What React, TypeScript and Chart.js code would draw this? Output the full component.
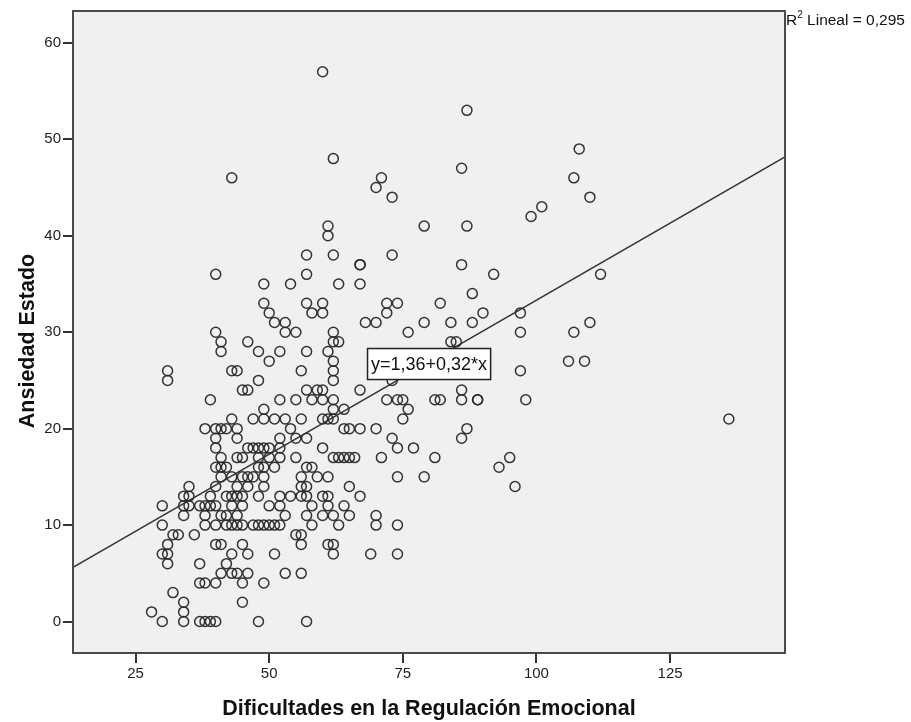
import React, { useEffect, useRef } from 'react';
import { Chart, registerables } from 'chart.js';

Chart.register(...registerables);

// Dificultades en la Regulación Emocional (x) / Ansiedad Estado (y)
const xValues: number[] = [
  60, 87, 62, 86, 71, 70, 73, 61, 79, 87, 99,
  108, 107, 110, 101, 112, 97, 97, 107, 110, 106, 109, 97, 98, 136, 95, 93, 96,
  61, 57, 62, 73, 67, 67, 86, 57, 92, 63, 67, 88,
  57, 60, 72, 74, 82, 58, 60, 72, 90,
  68, 70, 79, 84, 88, 55, 62, 76,
  62, 63, 84, 85, 57, 61, 62, 56, 62, 62, 73,
  57, 59, 60, 67, 86,
  58, 60, 62, 72, 74, 75, 81, 82, 86, 89, 89,
  62, 64, 76, 56, 60, 61, 62, 75,
  64, 65, 67, 70, 87, 57, 73, 86, 60, 77,
  39, 52, 55, 49,
  43, 47, 49, 51, 53,
  38, 40, 41, 42, 44, 54,
  40, 44, 52, 55,
  40, 46, 47, 48, 49, 50, 52,
  41, 44, 45, 48, 50, 52, 55,
  40, 41, 42, 48, 49, 51, 57,
  41, 43, 45, 46, 47, 49, 56,
  35, 40, 44, 46, 49, 56,
  34, 35, 39, 42, 43, 44, 45, 48, 52, 54, 56,
  30, 34, 35, 37, 38, 39, 40, 43, 45, 50, 52,
  34, 38, 41, 42, 44, 53, 57,
  30, 38, 40, 42, 43, 44, 45, 47, 48, 49, 50, 51, 52,
  32, 33, 36, 55, 56,
  31, 40, 41, 45, 56,
  30, 31, 43, 46, 51,
  31, 37, 42,
  41, 43, 44, 46, 53,
  37, 38, 40, 45, 49,
  32, 34, 45, 28, 34,
  30, 34, 37, 38, 39, 40, 48, 57,
  43, 40, 49, 54, 49, 50, 51, 53, 53, 40, 41, 41, 46, 48, 43, 44, 45, 46, 48, 31, 31, 50, 52,
  62, 63, 64, 65, 66, 58, 59, 61, 57, 65, 57, 60, 61, 58, 61, 64, 60, 62, 65, 70,
  58, 63, 70, 74, 61, 62, 62, 69, 74, 56, 67, 71, 74, 79, 81, 74,
];

const yValues: number[] = [
  57, 53, 48, 47, 46, 45, 44, 41, 41, 41, 42,
  49, 46, 44, 43, 36, 32, 30, 30, 31, 27, 27, 26, 23, 21, 17, 16, 14,
  40, 38, 38, 38, 37, 37, 37, 36, 36, 35, 35, 34,
  33, 33, 33, 33, 33, 32, 32, 32, 32,
  31, 31, 31, 31, 31, 30, 30, 30,
  29, 29, 29, 29, 28, 28, 27, 26, 26, 25, 25,
  24, 24, 24, 24, 24,
  23, 23, 23, 23, 23, 23, 23, 23, 23, 23, 23,
  22, 22, 22, 21, 21, 21, 21, 21,
  20, 20, 20, 20, 20, 19, 19, 19, 18, 18,
  23, 23, 23, 22,
  21, 21, 21, 21, 21,
  20, 20, 20, 20, 20, 20,
  19, 19, 19, 19,
  18, 18, 18, 18, 18, 18, 18,
  17, 17, 17, 17, 17, 17, 17,
  16, 16, 16, 16, 16, 16, 16,
  15, 15, 15, 15, 15, 15, 15,
  14, 14, 14, 14, 14, 14,
  13, 13, 13, 13, 13, 13, 13, 13, 13, 13, 13,
  12, 12, 12, 12, 12, 12, 12, 12, 12, 12, 12,
  11, 11, 11, 11, 11, 11, 11,
  10, 10, 10, 10, 10, 10, 10, 10, 10, 10, 10, 10, 10,
  9, 9, 9, 9, 9,
  8, 8, 8, 8, 8,
  7, 7, 7, 7, 7,
  6, 6, 6,
  5, 5, 5, 5, 5,
  4, 4, 4, 4, 4,
  3, 2, 2, 1, 1,
  0, 0, 0, 0, 0, 0, 0, 0,
  46, 36, 35, 35, 33, 32, 31, 31, 30, 30, 29, 28, 29, 28, 26, 26, 24, 24, 25, 26, 25, 27, 28,
  17, 17, 17, 17, 17, 16, 15, 15, 14, 14, 13, 13, 13, 12, 12, 12, 11, 11, 11, 11,
  10, 10, 10, 10, 8, 8, 7, 7, 7, 5, 13, 17, 15, 15, 17, 18,
];

const xTicks = [25, 50, 75, 100, 125];
const yTicks = [0, 10, 20, 30, 40, 50, 60];
const xRange = [13.3, 146.5];
const yRange = [-3.26, 63.3];
const fitIntercept = 1.36;
const fitSlope = 0.3195;
const xTitle = 'Dificultades en la Regulación Emocional';
const yTitle = 'Ansiedad Estado';
const r2Prefix = 'R';
const r2Sup = '2';
const r2Text = ' Lineal = 0,295';
const equationText = 'y=1,36+0,32*x';
const equationAnchor = { x: 68.4, y: 26.7 };

const FONT = '"Liberation Sans", Arial, sans-serif';

const framePlugin = {
  id: 'spssFrame',
  beforeDatasetsDraw(chart: any) {
    const { ctx, chartArea } = chart;
    ctx.save();
    ctx.fillStyle = '#f0f0f0';
    ctx.fillRect(chartArea.left, chartArea.top, chartArea.right - chartArea.left, chartArea.bottom - chartArea.top);
    ctx.restore();
  },
  afterDraw(chart: any) {
    const { ctx, chartArea, scales } = chart;
    ctx.save();
    // frame
    ctx.strokeStyle = '#4a4a4a';
    ctx.lineWidth = 2;
    ctx.strokeRect(chartArea.left, chartArea.top, chartArea.right - chartArea.left, chartArea.bottom - chartArea.top);

    // equation label
    ctx.font = `18px ${FONT}`;
    const tw = ctx.measureText(equationText).width;
    const bx = scales.x.getPixelForValue(equationAnchor.x);
    const cy = scales.y.getPixelForValue(equationAnchor.y);
    const bw = tw + 7;
    const bh = 31;
    ctx.fillStyle = '#ffffff';
    ctx.fillRect(bx, cy - bh / 2, bw, bh);
    ctx.strokeStyle = '#222';
    ctx.lineWidth = 1.5;
    ctx.strokeRect(bx, cy - bh / 2, bw, bh);
    ctx.fillStyle = '#111';
    ctx.textBaseline = 'middle';
    ctx.textAlign = 'left';
    ctx.fillText(equationText, bx + 3.5, cy + 1);

    // R2 annotation
    const rx = chartArea.right + 1;
    const ry = 25;
    ctx.textBaseline = 'alphabetic';
    ctx.font = `15.5px ${FONT}`;
    ctx.fillStyle = '#111';
    ctx.fillText(r2Prefix, rx, ry);
    const w1 = ctx.measureText(r2Prefix).width;
    ctx.font = `10px ${FONT}`;
    ctx.fillText(r2Sup, rx + w1, ry - 7);
    const w2 = ctx.measureText(r2Sup).width;
    ctx.font = `15.5px ${FONT}`;
    ctx.fillText(r2Text, rx + w1 + w2, ry);

    // axis titles
    ctx.font = `bold 21.5px ${FONT}`;
    ctx.fillStyle = '#111';
    ctx.textAlign = 'center';
    ctx.textBaseline = 'middle';
    ctx.fillText(xTitle, (chartArea.left + chartArea.right) / 2, 709);
    ctx.save();
    ctx.translate(28, 341);
    ctx.rotate(-Math.PI / 2);
    ctx.fillText(yTitle, 0, 0);
    ctx.restore();
    ctx.restore();
  },
};

export default function App() {
  const ref = useRef<HTMLCanvasElement | null>(null);
  useEffect(() => {
    if (!ref.current) return;
    const points = xValues.map((x, i) => ({ x, y: yValues[i] }));
    const line = [
      { x: xRange[0], y: fitIntercept + fitSlope * xRange[0] },
      { x: xRange[1], y: fitIntercept + fitSlope * xRange[1] },
    ];
    const chart = new Chart(ref.current, {
      type: 'scatter',
      data: {
        datasets: [
          {
            type: 'line',
            data: line,
            borderColor: '#333',
            borderWidth: 1.5,
            pointRadius: 0,
            fill: false,
            order: 1,
          } as any,
          {
            data: points,
            pointRadius: 5,
            pointBorderWidth: 1.5,
            pointBorderColor: 'rgba(40,40,40,0.95)',
            pointBackgroundColor: 'rgba(0,0,0,0)',
            pointHoverRadius: 5,
            order: 2,
          },
        ],
      },
      options: {
        animation: false,
        responsive: false,
        events: [],
        layout: { padding: { left: 0, top: 11, right: 126, bottom: 0 } },
        plugins: { legend: { display: false }, tooltip: { enabled: false } },
        scales: {
          x: {
            type: 'linear',
            min: xRange[0],
            max: xRange[1],
            afterBuildTicks: (axis: any) => {
              axis.ticks = xTicks.map((v) => ({ value: v }));
            },
            afterFit: (axis: any) => {
              axis.height = 69;
            },
            grid: { drawOnChartArea: false, drawTicks: true, tickLength: 10, color: '#333', lineWidth: 2 },
            border: { display: false },
            ticks: { font: { family: FONT, size: 15 }, color: '#222', padding: 2, maxRotation: 0 },
          },
          y: {
            type: 'linear',
            min: yRange[0],
            max: yRange[1],
            afterBuildTicks: (axis: any) => {
              axis.ticks = yTicks.map((v) => ({ value: v }));
            },
            afterFit: (axis: any) => {
              axis.width = 73;
            },
            grid: { drawOnChartArea: false, drawTicks: true, tickLength: 10, color: '#333', lineWidth: 2 },
            border: { display: false },
            ticks: { font: { family: FONT, size: 15 }, color: '#222', padding: 2 },
          },
        },
      },
      plugins: [framePlugin],
    });
    return () => chart.destroy();
  }, []);

  return (
    <div style={{ position: 'absolute', left: 0, top: 0, width: 911, height: 722, background: '#fff' }}>
      <canvas ref={ref} width={911} height={722} style={{ width: 911, height: 722, display: 'block' }} />
    </div>
  );
}
